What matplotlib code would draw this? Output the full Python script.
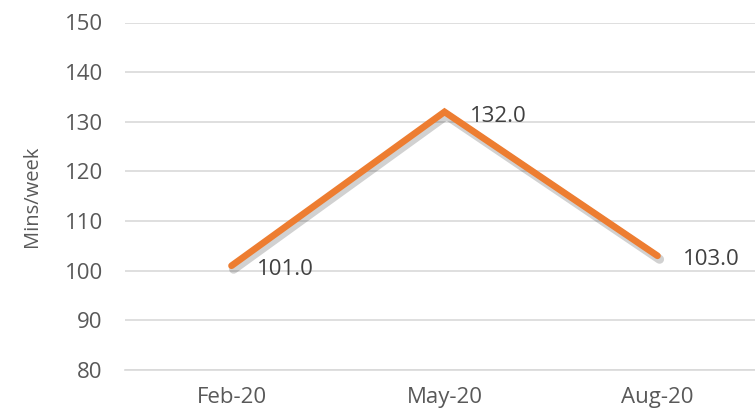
import matplotlib.pyplot as plt
import matplotlib.patheffects as pe

# --- Data ---
months = ["Feb-20", "May-20", "Aug-20"]
mins_per_week = [101.0, 132.0, 103.0]
y_ticks = [80, 90, 100, 110, 120, 130, 140, 150]

plt.rcParams['font.family'] = ['Open Sans', 'DejaVu Sans']

fig = plt.figure(figsize=(7.55, 4.13), dpi=100)
ax = fig.add_axes([125 / 755, 43 / 413, 1 - 125 / 755, (370 - 22.5) / 413])

x = list(range(len(months)))
ax.plot(x, mins_per_week, color='#ED7D31', linewidth=4.8, solid_capstyle='round',
        solid_joinstyle='miter',
        path_effects=[pe.SimpleLineShadow(offset=(1.5, -2.5), alpha=0.18, shadow_color='#000000',
                                          linewidth=6.5),
                      pe.Normal()])

for xi, v in zip(x, mins_per_week):
    ax.annotate(f"{v:.1f}", (xi, v), xytext=(18, -3), textcoords='offset points',
                ha='left', va='center', fontsize=16, color='#404040')

ax.set_ylim(80, 150)
ax.set_yticks(y_ticks)
ax.set_xlim(-0.5, -0.5 + (755 - 125) / 213)
ax.set_xticks(x)
ax.set_xticklabels(months)

ax.grid(axis='y', color='#D9D9D9', linewidth=1.2)
ax.set_axisbelow(True)
for s in ['top', 'right', 'left']:
    ax.spines[s].set_visible(False)
ax.spines['bottom'].set_color('#D9D9D9')
ax.spines['bottom'].set_linewidth(1.2)
ax.tick_params(axis='both', length=0, labelsize=16, colors='#595959')
ax.tick_params(axis='y', pad=16)
ax.tick_params(axis='x', pad=12)

ax.set_ylabel("Mins/week", fontsize=14.5, color='#595959', labelpad=16)

fig.savefig("out.png", dpi=100)
